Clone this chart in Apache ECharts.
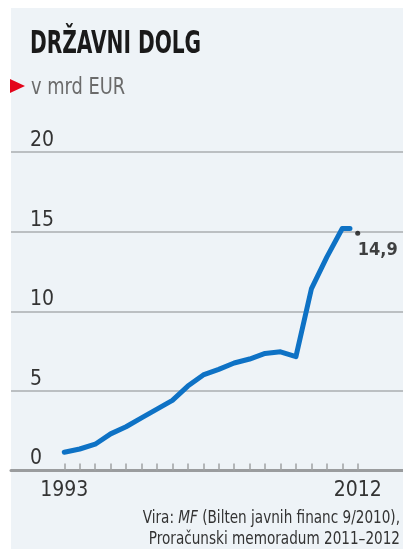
<!DOCTYPE html>
<html>
<head>
<meta charset="utf-8">
<script src="https://cdn.jsdelivr.net/npm/echarts@6/dist/echarts.min.js"></script>
<style>
html,body{margin:0;padding:0;background:#fff;}
#c{width:403px;height:549px;}
</style>
</head>
<body>
<div id="c"></div>
<script>
// Data
var years = [1993,1994,1995,1996,1997,1998,1999,2000,2001,2002,2003,2004,2005,2006,2007,2008,2009,2010,2011,2011.5];
var debt  = [1.15,1.35,1.65,2.3,2.75,3.3,3.85,4.4,5.3,6.0,6.35,6.75,7.0,7.35,7.45,7.15,11.4,13.4,15.2,15.2];
var lastYear = [2012];
var lastValue = [14.9];
var lastLabel = ['14,9'];
var tickLabels = ['1993','2012'];
var yTicks = ['0','5','10','15','20'];
var titleText = 'DRŽAVNI DOLG';
var subtitleText = 'v mrd EUR';
var sourceLine1 = ['Vira: ', 'MF', ' (Bilten javnih financ 9/2010),'];
var sourceLine2 = 'Proračunski memoradum 2011–2012';

var FONT = "'DejaVu Sans Condensed','Liberation Sans Narrow',sans-serif";
var chart = echarts.init(document.getElementById('c'), null, {renderer:'canvas'});

var lineData = years.map(function(y,i){return [y, debt[i]];});
var dotData = lastYear.map(function(y,i){return [y, lastValue[i]];});

var gridTop = 152, gridBottom = 78.5;

chart.setOption({
  backgroundColor: '#ffffff',
  animation: false,
  grid: [
    {left: 11, right: 0, top: gridTop, bottom: gridBottom},
    {left: 64.3, right: 45.3, top: gridTop, bottom: gridBottom}
  ],
  xAxis: [
    {gridIndex:0, type:'value', min:0, max:1,
     axisLine:{show:true, lineStyle:{color:'#9a9c9e', width:3}},
     axisTick:{show:false}, axisLabel:{show:false}, splitLine:{show:false}},
    {gridIndex:1, type:'value', min:1993, max:2012, interval:1,
     axisLine:{show:false},
     axisTick:{show:true, inside:true, length:7, lineStyle:{color:'#a0a2a4', width:1.5}},
     axisLabel:{show:true, margin:10, color:'#333', fontFamily:FONT, fontSize:21,
       hideOverlap:false, showMinLabel:true, showMaxLabel:true,
       formatter:function(v){ var s=String(v); return tickLabels.indexOf(s)>=0 ? s : ''; }},
     splitLine:{show:false}}
  ],
  yAxis: [
    {gridIndex:0, type:'value', min:0, max:20, interval:5,
     axisLine:{show:false}, axisTick:{show:false},
     axisLabel:{show:true, inside:true, margin:19, color:'#333', fontFamily:FONT, fontSize:21,
       verticalAlign:'bottom', padding:[0,0,1,0],
       formatter:function(v){ var s=String(v); return yTicks.indexOf(s)>=0 ? s : ''; }},
     splitLine:{show:true, lineStyle:{color:'#aaaeb1', width:1.5}}},
    {gridIndex:1, type:'value', min:0, max:20, interval:5, show:false, splitLine:{show:false}}
  ],
  graphic: [
    {type:'rect', z:-10, shape:{x:11, y:8, width:392, height:541}, style:{fill:'#eef3f7'}},
    {type:'polygon', shape:{points:[[10,79],[25,86],[10,93]]}, style:{fill:'#e3051b'}},
    {type:'text', x:30, y:45, scaleX:0.7, style:{text:titleText, font:"bold 32px "+FONT, fill:'#1a1a1a', verticalAlign:'middle', align:'left'}},
    {type:'text', x:31, y:88, scaleX:0.86, style:{text:subtitleText, font:"23px "+FONT, fill:'#6b6b6b', verticalAlign:'middle', align:'left'}},
    {type:'text', x:400, y:518, scaleX:0.84, style:{
      text:'{a|'+sourceLine1[0]+'}{i|'+sourceLine1[1]+'}{a|'+sourceLine1[2]+'}',
      align:'right', verticalAlign:'middle',
      rich:{a:{font:"18px "+FONT, fill:'#333'}, i:{font:"italic 18px "+FONT, fill:'#333'}}}},
    {type:'text', x:400, y:539, scaleX:0.84, style:{text:sourceLine2, font:"18px "+FONT, fill:'#333', align:'right', verticalAlign:'middle'}}
  ],
  series: [
    {type:'line', xAxisIndex:1, yAxisIndex:1, data:lineData, showSymbol:false, symbol:'none',
     lineStyle:{color:'#0e72c5', width:5, cap:'round', join:'round'}, z:3},
    {type:'scatter', xAxisIndex:1, yAxisIndex:1, data:dotData, symbolSize:5,
     itemStyle:{color:'#111'}, z:4,
     label:{show:true, position:'bottom', align:'left', distance:6, offset:[0,0],
       formatter:function(p){return lastLabel[p.dataIndex];},
       fontFamily:FONT, fontWeight:'bold', fontSize:18, color:'#111'}}
  ]
});
</script>
</body>
</html>
